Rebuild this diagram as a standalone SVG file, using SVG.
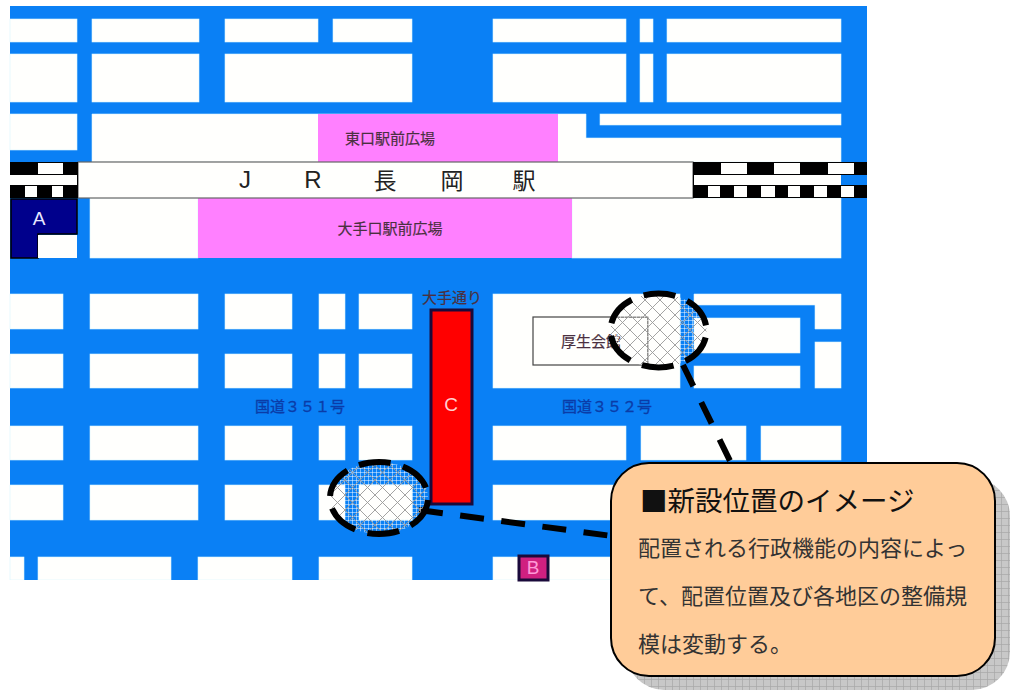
<svg xmlns="http://www.w3.org/2000/svg" width="1013" height="690" viewBox="0 0 1013 690">
<style>
.j{font-family:"Noto Sans CJK JP","Liberation Sans",sans-serif}
.b{fill:#fffffd;stroke:#d8f4ff;stroke-width:.6}
.bk{fill:#000}
.w{fill:#fffffd}
.p{fill:#ff80ff}
.lab{font-size:15px;fill:#4a3040;text-anchor:middle;stroke:#4a3040;stroke-width:.2}
.road{font-size:15px;fill:#0a3ca8;text-anchor:middle;stroke:#0a3ca8;stroke-width:.3}
.rail{font-size:23px;fill:#222;font-family:"Noto Sans CJK JP","Liberation Sans",sans-serif;text-anchor:middle}
.let{font-family:"Liberation Sans",sans-serif;font-size:19px;text-anchor:middle}
.dash{fill:none;stroke:#000;stroke-width:6}
.body{font-size:22px;fill:#333}
</style>
<defs>
<pattern id="lat" width="15" height="15" patternUnits="userSpaceOnUse">
<path d="M0 0L15 15M15 0L0 15" stroke="#999" stroke-width=".9" fill="none"/>
</pattern>
<pattern id="fine" width="4" height="4" patternUnits="userSpaceOnUse">
<path d="M0 .5H4M.5 0V4" stroke="#fff" stroke-width=".8" stroke-opacity=".6" fill="none"/>
</pattern>
<pattern id="shgrid" width="7" height="7" patternUnits="userSpaceOnUse">
<rect width="7" height="7" fill="#c8c8c8"/>
<path d="M0 .5H7M.5 0V7" stroke="#a8a8a8" stroke-width=".7" fill="none"/>
</pattern>
</defs>
<rect width="1013" height="690" fill="#fff"/>
<g id="map">
<rect x="10" y="6" width="857" height="574" fill="#0a80f5"/>
<g id="blocks">
<rect class="b" x="10" y="19" width="67" height="23"/><rect class="b" x="92" y="19" width="107" height="23"/><rect class="b" x="225" y="19" width="93" height="23"/><rect class="b" x="333" y="19" width="79" height="23"/><rect class="b" x="493" y="19" width="133" height="23"/><rect class="b" x="640" y="19" width="13" height="23"/><rect class="b" x="667" y="19" width="174" height="23"/>
<rect class="b" x="10" y="54" width="67" height="48"/><rect class="b" x="92" y="54" width="107" height="48"/><rect class="b" x="225" y="54" width="187" height="48"/><rect class="b" x="493" y="54" width="133" height="48"/><rect class="b" x="640" y="54" width="13" height="48"/><rect class="b" x="667" y="54" width="174" height="48"/>
<rect class="b" x="10" y="114" width="67" height="36"/><path class="b" d="M92 114H586V138H841V162H92Z"/><rect class="b" x="600" y="114" width="241" height="11"/>
<rect class="b" x="90" y="198" width="108" height="60"/><rect class="b" x="572" y="198" width="269" height="60"/>
<rect class="b" x="10" y="294" width="53" height="35"/><rect class="b" x="90" y="294" width="108" height="35"/><rect class="b" x="225" y="294" width="67" height="35"/><rect class="b" x="319" y="294" width="26" height="35"/><rect class="b" x="359" y="294" width="53" height="35"/><rect class="b" x="493" y="294" width="187" height="94"/>
<path class="b" d="M694 294H841V329H815V305H694Z"/><rect class="b" x="694" y="318" width="106" height="35"/><rect class="b" x="694" y="366" width="106" height="22"/><rect class="b" x="815" y="342" width="26" height="46"/>
<rect class="b" x="10" y="354" width="53" height="34"/><rect class="b" x="90" y="354" width="108" height="34"/><rect class="b" x="225" y="354" width="67" height="34"/><rect class="b" x="319" y="354" width="26" height="34"/><rect class="b" x="359" y="354" width="53" height="34"/>
<rect class="b" x="10" y="426" width="53" height="34"/><rect class="b" x="90" y="426" width="108" height="34"/><rect class="b" x="225" y="426" width="67" height="34"/><rect class="b" x="319" y="426" width="26" height="34"/><rect class="b" x="359" y="426" width="53" height="34"/><rect class="b" x="493" y="426" width="133" height="34"/><rect class="b" x="641" y="426" width="105" height="34"/><rect class="b" x="761" y="426" width="80" height="34"/>
<rect class="b" x="10" y="485" width="53" height="35"/><rect class="b" x="90" y="485" width="108" height="35"/><rect class="b" x="225" y="485" width="67" height="35"/><rect class="b" x="319" y="485" width="26" height="35"/><rect class="b" x="359" y="485" width="53" height="35"/><rect class="b" x="493" y="485" width="133" height="35"/>
<rect class="b" x="10" y="557" width="14" height="23"/><rect class="b" x="38" y="557" width="133" height="23"/><rect class="b" x="198" y="557" width="94" height="23"/><rect class="b" x="319" y="557" width="93" height="23"/><rect class="b" x="493" y="557" width="133" height="23"/>
</g>
<rect x="0" y="580" width="1013" height="110" fill="#fff"/>
</g>
<g id="east-plaza"><rect class="p" x="318" y="114" width="240" height="48"/><text class="j lab" x="390" y="144">東口駅前広場</text></g>
<g id="west-plaza"><rect class="p" x="198" y="198" width="374" height="60"/><text class="j lab" x="390" y="234">大手口駅前広場</text></g>
<g id="station">
<rect x="78" y="162" width="615" height="36" fill="#fffffd" stroke="#666" stroke-width="1.2"/>
<text x="245" y="188" font-family="Liberation Sans, sans-serif" font-size="24" fill="#222" text-anchor="middle">J</text><text x="313" y="188" font-family="Liberation Sans, sans-serif" font-size="24" fill="#222" text-anchor="middle">R</text><text class="rail" x="385" y="189">長</text><text class="rail" x="452" y="189">岡</text><text class="rail" x="524" y="189">駅</text>
</g>
<g id="rail-left">
<rect class="bk" x="10" y="162" width="68" height="36"/>
<rect class="w" x="38" y="163" width="25" height="11"/><rect class="w" x="10" y="175" width="67" height="10"/><rect class="w" x="25" y="186" width="12" height="11"/><rect class="w" x="52" y="186" width="11" height="11"/>
</g>
<g id="rail-right">
<rect class="bk" x="693" y="162" width="174" height="36"/>
<rect class="w" x="721" y="163" width="26" height="11"/><rect class="w" x="774" y="163" width="26" height="11"/><rect class="w" x="828" y="163" width="26" height="11"/>
<rect class="w" x="694" y="175" width="147" height="10"/><rect x="841" y="175" width="26" height="10" fill="#0a80f5"/>
<rect class="w" x="708" y="186" width="12" height="11"/><rect class="w" x="734" y="186" width="13" height="11"/><rect class="w" x="761" y="186" width="14" height="11"/><rect class="w" x="788" y="186" width="12" height="11"/><rect class="w" x="814" y="186" width="13" height="11"/><rect class="w" x="841" y="186" width="13" height="11"/>
</g>
<g id="node-a">
<path d="M11 199H77V234H38V258H11Z" fill="#00008c" stroke="#000" stroke-width="1.5"/>
<rect class="w" x="38" y="235" width="39" height="23"/>
<text class="let" x="39" y="225" fill="#e8e8ff">A</text>
</g>
<g id="node-c">
<rect x="431" y="310" width="41" height="194" fill="#ff0000" stroke="#1a0a3a" stroke-width="3"/>
<text class="let" x="451" y="411" fill="#ffd0d0">C</text>
<text class="j lab" x="452" y="303">大手通り</text>
</g>
<g id="node-b">
<rect x="519" y="556" width="29" height="24" fill="#d02080" stroke="#1a0a3a" stroke-width="3"/>
<text class="let" x="533" y="574" fill="#ff9ad8">B</text>
</g>
<g id="road-labels">
<text class="j road" x="300" y="412">国道３５１号</text>
<text class="j road" x="607" y="412">国道３５２号</text>
</g>
<g id="kosei">
<rect x="533" y="317" width="115" height="48" fill="#fffffd" stroke="#444" stroke-width="1.2"/>
<text class="j lab" x="591" y="347">厚生会館</text>
</g>
<g id="connectors">
<path class="dash" d="M683 365L733 467" stroke-dasharray="23.5 18"/>
<path class="dash" d="M419 510L612 536" stroke-dasharray="24 17.5"/>
</g>
<g id="area-north">
<ellipse cx="658.5" cy="330.5" rx="48" ry="37" fill="url(#fine)"/>
<ellipse cx="658.5" cy="330.5" rx="48" ry="37" fill="url(#lat)"/>
<ellipse class="dash" cx="658.5" cy="330.5" rx="48" ry="37" stroke-dasharray="32 12.7" stroke-dashoffset="-7"/>
</g>
<g id="area-south">
<ellipse cx="379" cy="498" rx="49" ry="36" fill="url(#fine)"/>
<ellipse cx="379" cy="498" rx="49" ry="36" fill="url(#lat)"/>
<ellipse class="dash" cx="379" cy="498" rx="49" ry="36" stroke-dasharray="32 12.7" stroke-dashoffset="-2"/>
</g>
<g id="callout">
<rect x="626" y="478" width="384" height="212" rx="38" fill="url(#shgrid)"/>
<rect x="611" y="463" width="384" height="213" rx="38" fill="#ffcc99" stroke="#000" stroke-width="2"/>
<text class="j" x="640" y="511" font-size="27.5" fill="#111">■新設位置のイメージ</text>
<text class="j body" x="638" y="556">配置される行政機能の内容によっ</text>
<text class="j body" x="638" y="604">て、配置位置及び各地区の整備規</text>
<text class="j body" x="638" y="652">模は変動する。</text>
</g>
</svg>
